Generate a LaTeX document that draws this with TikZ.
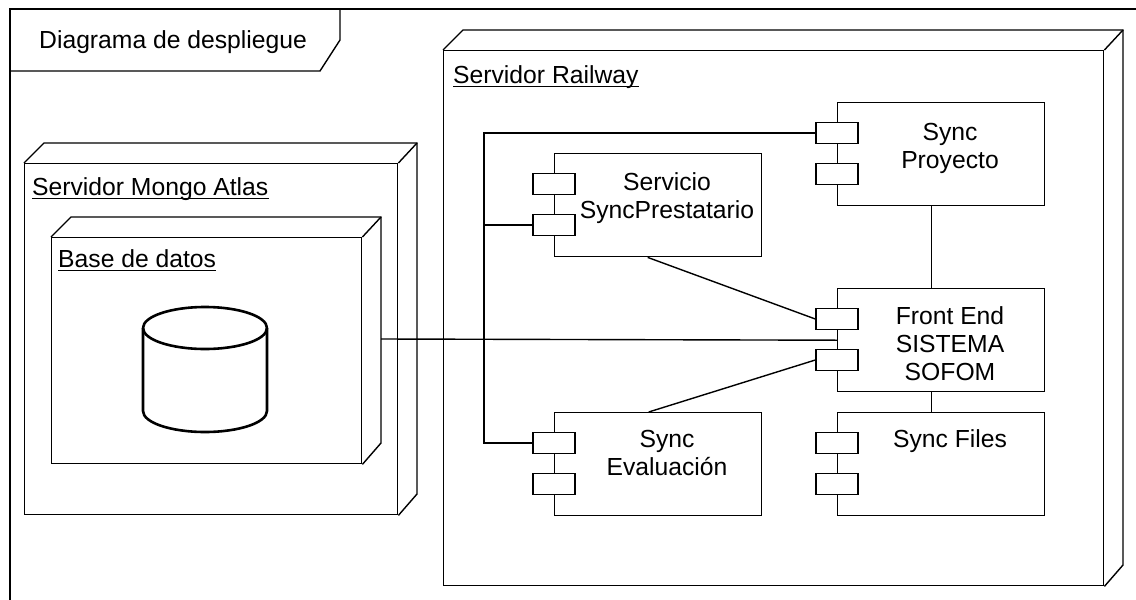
\documentclass[tikz,border=0pt]{standalone}
\usepackage{fontspec}
\setmainfont{Liberation Sans}
\begin{document}
\begin{tikzpicture}[x=1pt,y=-1pt,
  wire/.style={line width=1.4pt, draw=black},
  comp/.style={draw=black, line width=1.4pt, fill=white, anchor=north west,
    minimum width=207pt, minimum height=103pt, inner sep=0pt},
  port/.style={draw=black, line width=1.4pt, fill=white,
    minimum width=42pt, minimum height=21pt, inner sep=0pt},
  nodebox/.style={draw=black, line width=1.4pt, fill=white, anchor=north west, inner sep=0pt},
  txt/.style={font=\fontsize{24.7}{28}\selectfont, align=center, inner sep=0pt, anchor=base},
  lbl/.style={font=\fontsize{24.7}{28}\selectfont, inner sep=0pt, anchor=base west},
  cyl/.style={line width=2.6pt, draw=black, line join=round}
]
\useasboundingbox (0,0) rectangle (1136,600);
\fill[white] (0,0) rectangle (1136,600);
\clip (0,0) rectangle (1136,600);

% outer frame
\draw[wire] (10,9) rectangle (1150,615);
\draw[wire] (10,71) -- (320,71) -- (340,40) -- (340,9);
\node[lbl] (title) at (39,48) {Diagrama de despliegue};

% Mongo server node
\node[nodebox, minimum width=373pt, minimum height=351pt] (mongo) at (24,163) {};
\draw[wire] (mongo.north west) -- ++(20,-20) -- ++(373,0) coordinate (mongoB) -- ++(0,351) -- (mongo.south east);
\draw[wire] (mongo.north east) -- (mongoB);
\node[lbl] (lmongo) at (32,195) {Servidor Mongo Atlas};
\draw[line width=1.2pt] ([yshift=-3.5pt]lmongo.base west) -- ([yshift=-3.5pt]lmongo.base east);

% Base de datos node
\node[nodebox, minimum width=310pt, minimum height=226pt] (db) at (51,237) {};
\draw[wire] (db.north west) -- ++(20,-20) -- ++(310,0) coordinate (dbB) -- ++(0,226) -- (db.south east);
\draw[wire] (db.north east) -- (dbB);
\node[lbl] (ldb) at (58,267) {Base de datos};
\draw[line width=1.2pt] ([yshift=-3.5pt]ldb.base west) -- ([yshift=-3.5pt]ldb.base east);
\coordinate (dbr) at (381,339);

% cylinder
\draw[cyl] (143,328) -- (143,411) arc[start angle=180, end angle=360, x radius=62pt, y radius=21pt] -- (267,328);
\draw[cyl] (205,328) ellipse [x radius=62pt, y radius=21pt];

% Railway server node
\node[nodebox, minimum width=660pt, minimum height=535pt] (rail) at (443,50) {};
\draw[wire] (rail.north west) -- ++(20,-20) -- ++(660,0) coordinate (railB) -- ++(0,535) -- (rail.south east);
\draw[wire] (rail.north east) -- (railB);
\node[lbl] (lrail) at (453,83) {Servidor Railway};
\draw[line width=1.2pt] ([yshift=-3.5pt]lrail.base west) -- ([yshift=-3.5pt]lrail.base east);

% components
\node[comp] (proy) at (837,102) {};
\node[comp] (front) at (837,288) {};
\node[comp] (files) at (837,412) {};
\node[comp] (prest) at (554,153) {};
\node[comp] (eval) at (554,412) {};

\node[txt] (tproy) at (950,168) {Sync\\Proyecto};
\node[txt] (tfront) at (950,380) {Front End\\SISTEMA\\SOFOM};
\node[txt] (tfiles) at (950,447) {Sync Files};
\node[txt] (tprest) at (667,218) {Servicio\\SyncPrestatario};
\node[txt] (teval) at (667,475) {Sync\\Evaluación};

% ports
\foreach \c in {proy,front,files,prest,eval}{
  \node[port] (\c1) at ([yshift=-31pt]\c.north west) {};
  \node[port] (\c2) at ([yshift=-72pt]\c.north west) {};
}

% connectors
\coordinate (bus) at (484,0);
\draw[wire] (proy1.west) -- (proy1.west -| bus) |- (eval1.west);
\draw[wire] (prest2.west) -- (prest2.west -| bus);
\draw[wire] ([xshift=-9.5pt]proy.south) -- ([xshift=-9.5pt]front.north);
\draw[wire] ([xshift=-9.5pt]front.south) -- ([xshift=-9.5pt]files.north);
\draw[wire] ([xshift=-10.5pt]prest.south) -- (front1.west);
\draw[wire] ([xshift=-9.5pt]eval.north) -- (front2.west);
\draw[wire] (dbr) -- (front.west);
\end{tikzpicture}
\end{document}
